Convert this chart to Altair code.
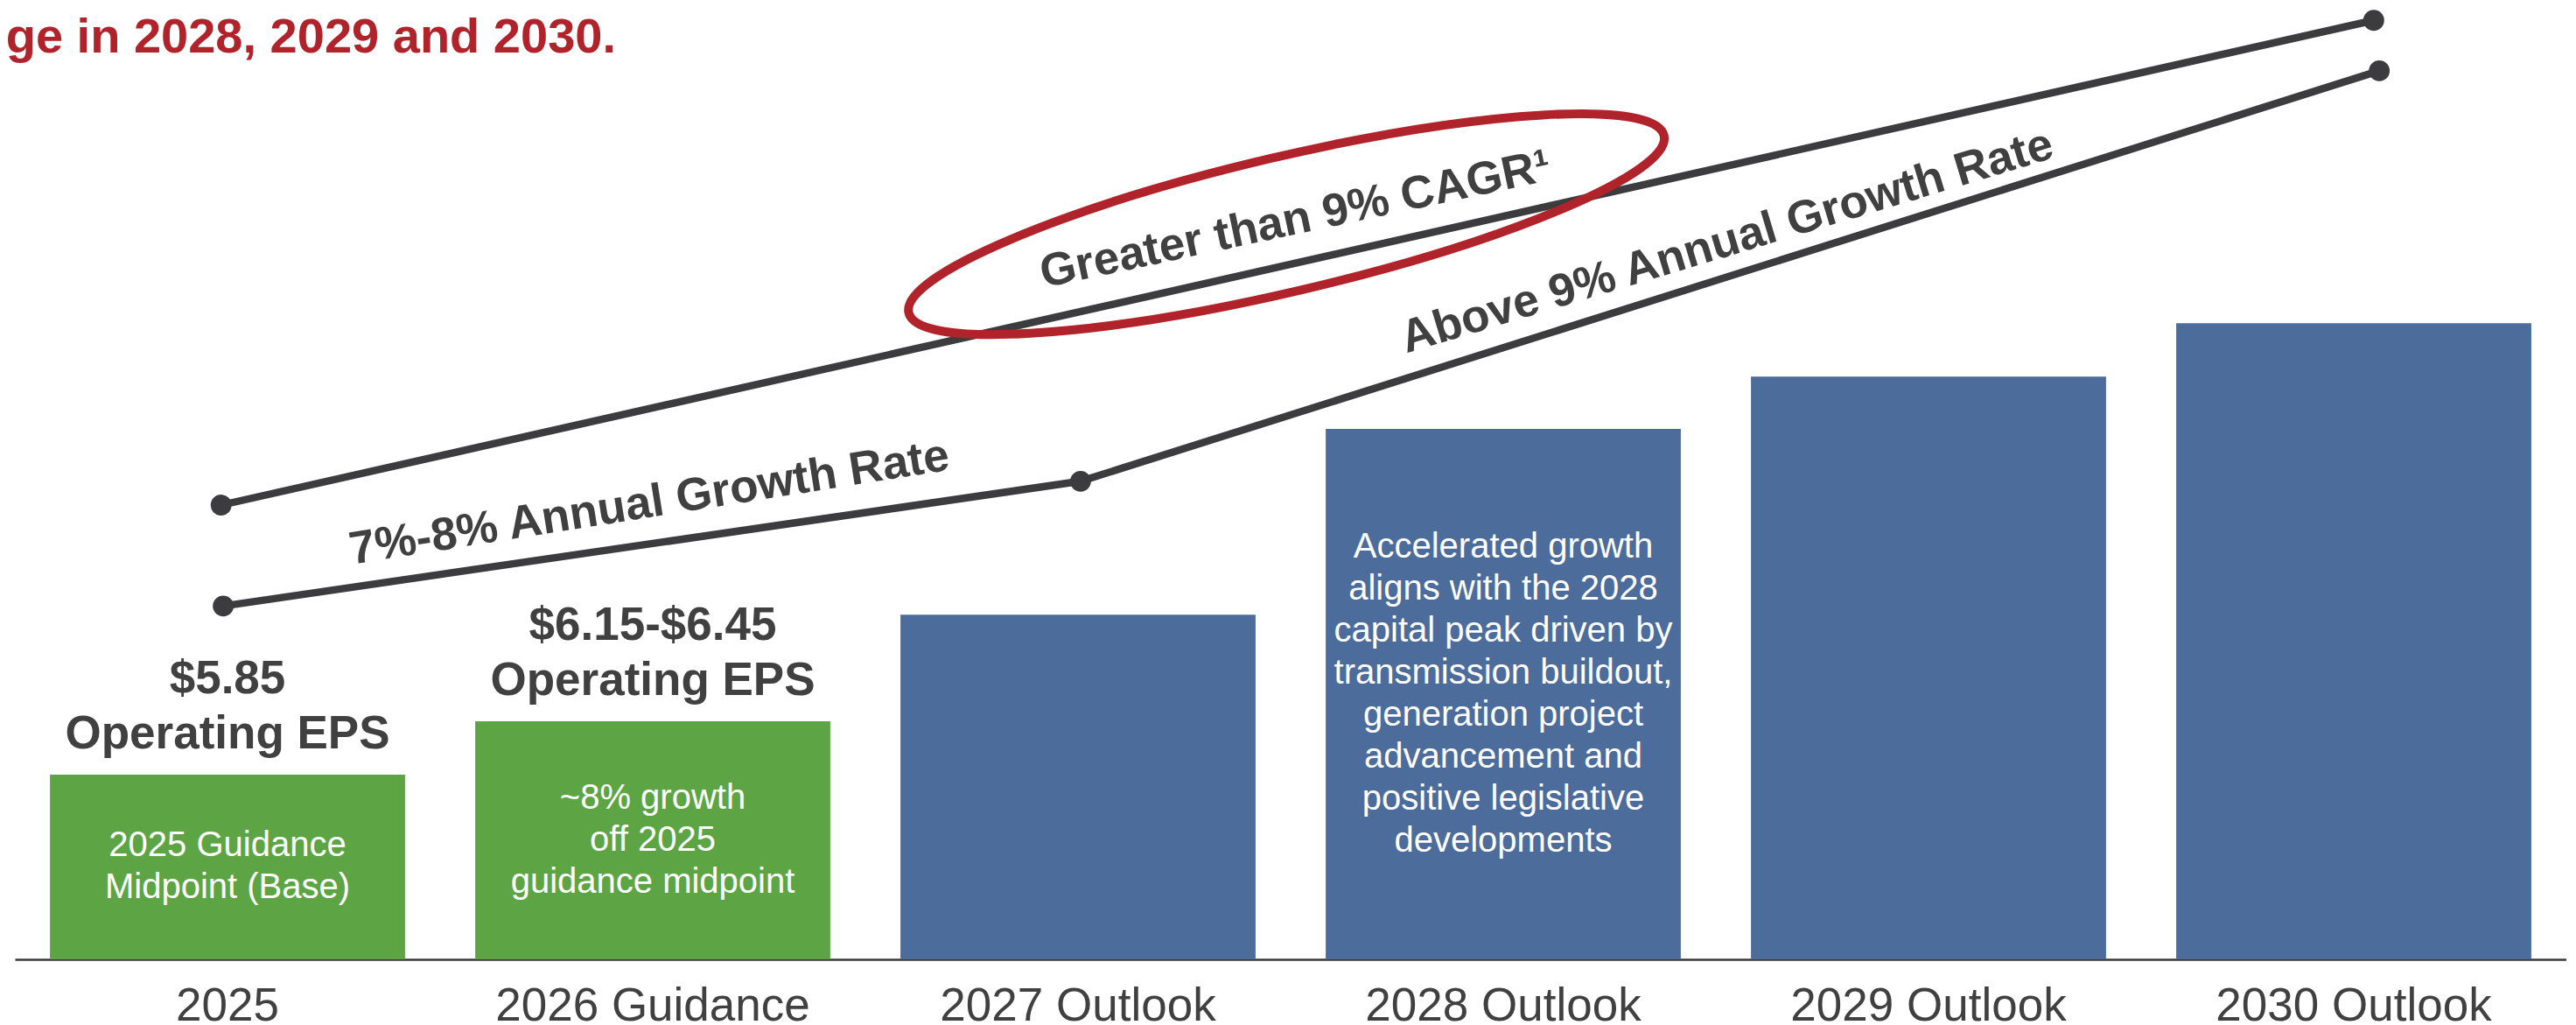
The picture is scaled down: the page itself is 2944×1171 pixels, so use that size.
import altair as alt
import pandas as pd

# ---------------- data ----------------
categories = ["2025", "2026 Guidance", "2027 Outlook", "2028 Outlook", "2029 Outlook", "2030 Outlook"]
bar_values = [1.94, 2.50, 3.62, 5.57, 6.12, 6.68]          # relative bar heights (axis hidden)
bar_colors = ["#5DA544", "#5DA544", "#4C6C9B", "#4C6C9B", "#4C6C9B", "#4C6C9B"]

above_cats = ["2025", "2026 Guidance"]
above_line1 = ["$5.85", "$6.15-$6.45"]
above_line2 = ["Operating EPS", "Operating EPS"]

inner_cats = ["2025", "2026 Guidance", "2028 Outlook"]
inner_lines = [
    ["2025 Guidance", "Midpoint (Base)"],
    ["~8% growth", "off 2025", "guidance midpoint"],
    ["Accelerated growth", "aligns with the 2028", "capital peak driven by", "transmission buildout,",
     "generation project", "advancement and", "positive legislative", "developments"],
]

line_series = ["upper", "upper", "lower", "lower", "lower"]
line_order = [0, 1, 0, 1, 2]
line_years = [2024.985, 2030.047, 2024.99, 2027.006, 2030.06]
line_values = [4.77, 9.86, 3.71, 5.02, 9.33]

annot_texts = ["Greater than 9% CAGR\u00b9", "7%-8% Annual Growth Rate", "Above 9% Annual Growth Rate"]
annot_years = [2027.518, 2025.997, 2028.536]
annot_values = [7.62, 4.646, 7.394]
annot_angles = [348.0, 351.0, 343.2]

ellipse_years = [2027.49]
ellipse_values = [7.72]

title_text = ["ge in 2028, 2029 and 2030."]

# ---------------- styles ----------------
FONT = "Liberation Sans"
DARK = "#404040"
RED = "#B0232A"
PX_PER_UNIT = 108.8   # plot height 1088 px over a 0-10 domain
INNER_LH = 48

bars_df = pd.DataFrame({"cat": categories, "value": bar_values, "color": bar_colors})
above_df = pd.DataFrame({"cat": above_cats, "l1": above_line1, "l2": above_line2}).merge(
    bars_df[["cat", "value"]], on="cat")

rows = []
for cat, lines in zip(inner_cats, inner_lines):
    n = len(lines)
    for i, t in enumerate(lines):
        rows.append({"cat": cat, "label": t, "shift": (i - (n - 1) / 2) * INNER_LH / PX_PER_UNIT})
inner_df = pd.DataFrame(rows).merge(bars_df[["cat", "value"]], on="cat")

lines_df = pd.DataFrame({"series": line_series, "order": line_order, "year": line_years, "value": line_values})
annot_df = pd.DataFrame({"text": annot_texts, "year": annot_years, "value": annot_values, "angle": annot_angles})
ell_df = pd.DataFrame({"year": ellipse_years, "value": ellipse_values})
title_df = pd.DataFrame({"t": title_text})

xband = alt.Scale(domain=categories, paddingInner=0.165, paddingOuter=0.0825)
ylin = alt.Scale(domain=[0, 10], nice=False, zero=True)
xlin = alt.Scale(domain=[2024.5, 2030.5], nice=False, zero=False)

bars = alt.Chart(bars_df).mark_bar().encode(
    x=alt.X("cat:N", sort=categories, scale=xband, title=None,
            axis=alt.Axis(labelAngle=0, labelFont=FONT, labelFontSize=53, labelColor=DARK,
                          labelLimit=2000, labelOverlap=False,
                          ticks=False, tickSize=0, labelPadding=27, domainColor="#3A3A3A",
                          domainWidth=2.5, grid=False)),
    y=alt.Y("value:Q", scale=ylin, axis=None),
    color=alt.Color("color:N", scale=None),
)

above_base = alt.Chart(above_df).encode(
    x=alt.X("cat:N", sort=categories, scale=xband),
    y=alt.Y("value:Q", scale=ylin),
)
above1 = above_base.mark_text(font=FONT, fontSize=53, fontWeight="bold", color=DARK,
                              baseline="alphabetic", align="center", dy=-93).encode(text="l1:N")
above2 = above_base.mark_text(font=FONT, fontSize=53, fontWeight="bold", color=DARK,
                              baseline="alphabetic", align="center", dy=-30).encode(text="l2:N")

inner = alt.Chart(inner_df).transform_calculate(ypos="datum.value / 2 - datum.shift").mark_text(
    font=FONT, fontSize=40, color="white", baseline="middle", align="center",
).encode(
    x=alt.X("cat:N", sort=categories, scale=xband),
    y=alt.Y("ypos:Q", scale=ylin),
    text="label:N",
)

group_bars = alt.layer(bars, above1, above2, inner)

lines = alt.Chart(lines_df).mark_line(color="#3C3C3E", strokeWidth=8.5).encode(
    x=alt.X("year:Q", scale=xlin, axis=None),
    y=alt.Y("value:Q", scale=ylin),
    detail="series:N",
    order="order:Q",
)
dots = alt.Chart(lines_df).mark_circle(color="#3C3C3E", opacity=1, size=570).encode(
    x=alt.X("year:Q", scale=xlin),
    y=alt.Y("value:Q", scale=ylin),
)
annots = alt.Chart(annot_df).mark_text(
    font=FONT, fontSize=53, fontWeight="bold", color=DARK, baseline="alphabetic", align="center",
).encode(
    x=alt.X("year:Q", scale=xlin),
    y=alt.Y("value:Q", scale=ylin),
    text="text:N",
    angle=alt.Angle("angle:Q", scale=None),
)
k = 0.174
c = round(k * 0.5523, 4)
ellipse_path = (f"M -1 0 C -1 -{c} -0.5523 -{k} 0 -{k} C 0.5523 -{k} 1 -{c} 1 0 "
                f"C 1 {c} 0.5523 {k} 0 {k} C -0.5523 {k} -1 {c} -1 0 Z")
ellipse = alt.Chart(ell_df).mark_point(
    shape=ellipse_path, filled=False, stroke=RED, strokeWidth=10, size=786000,
    angle=346.8, opacity=1,
).encode(
    x=alt.X("year:Q", scale=xlin),
    y=alt.Y("value:Q", scale=ylin),
)
group_lines = alt.layer(lines, dots, ellipse, annots)

title = alt.Chart(title_df).mark_text(
    font=FONT, fontSize=56, fontWeight="bold", color=RED, align="right", baseline="alphabetic",
).encode(x=alt.value(687), y=alt.value(52), text="t:N")

chart = alt.layer(group_bars, group_lines, title).resolve_scale(x="independent").properties(
    width=2916, height=1088,
    autosize=alt.AutoSizeParams(type="none"),
    padding={"left": 9, "top": 0, "right": 0, "bottom": 75},
    background="white",
).configure_view(stroke=None)

chart.save("out.html", embed_options={"renderer": "svg", "actions": False})
